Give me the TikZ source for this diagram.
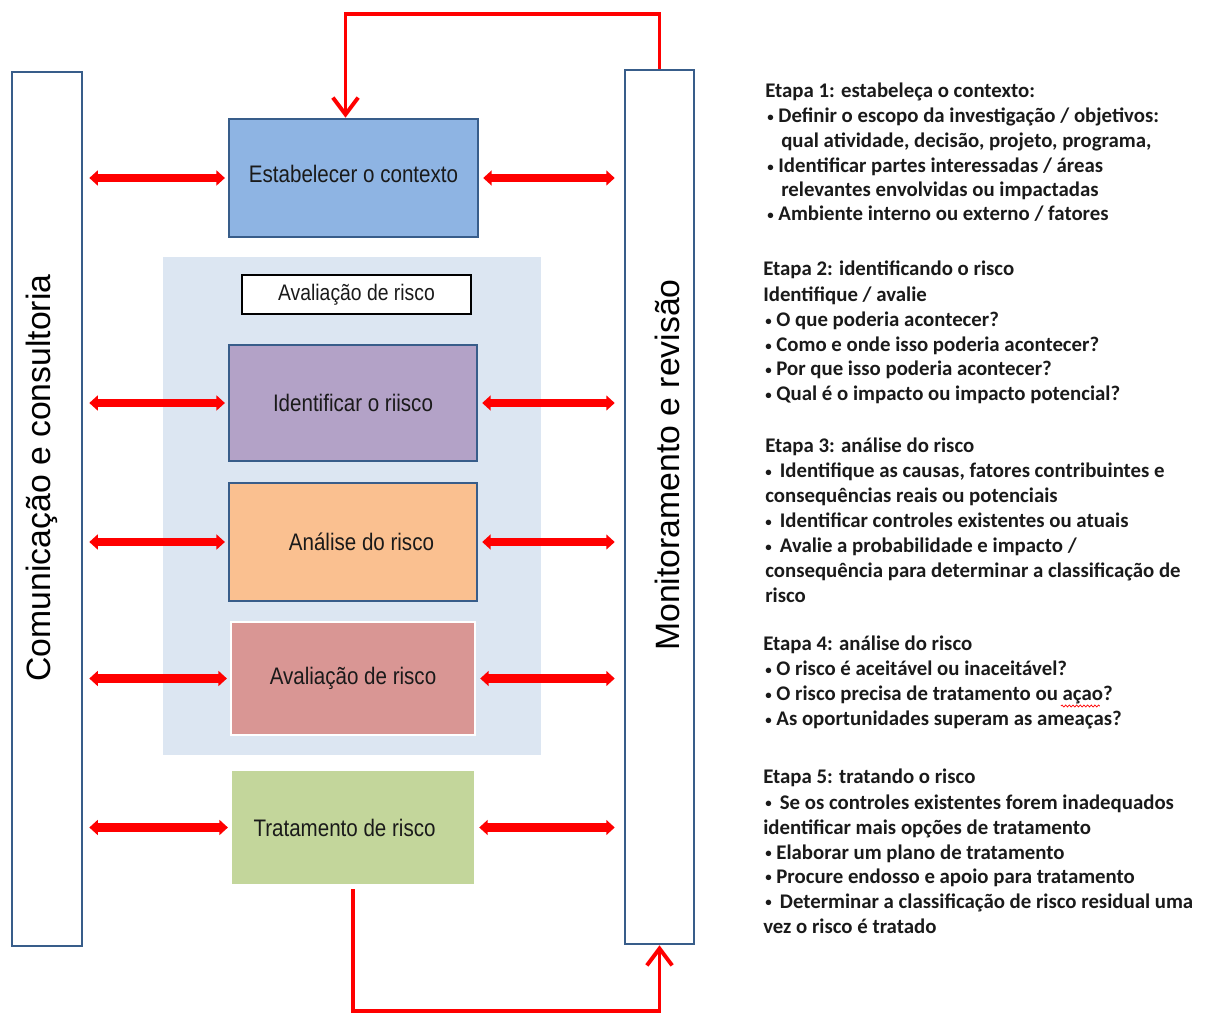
\documentclass[tikz,border=0pt]{standalone}
\usepackage{fontspec}
\setmainfont{Liberation Sans}
\newfontfamily\stepfont{Carlito}
\usetikzlibrary{arrows.meta,calc,decorations.pathmorphing}

\definecolor{frameblue}{HTML}{385D8A}
\definecolor{ctxfill}{HTML}{8EB4E3}
\definecolor{idfill}{HTML}{B3A2C7}
\definecolor{anfill}{HTML}{FAC090}
\definecolor{avfill}{HTML}{D99694}
\definecolor{trfill}{HTML}{C3D69B}
\definecolor{groupfill}{HTML}{DCE6F2}
\definecolor{flowred}{HTML}{FF0000}
\definecolor{inktext}{HTML}{1A1A1A}

\newcommand\stepline[4]{\node[steptxt] (#1) at (#2,#3) {#4};}
\newcommand\boxlabel[1]{\scalebox{0.86}[1]{#1}}
\newcommand\stepbul{\raisebox{0.12ex}{\scalebox{0.62}{•}}}

\begin{document}
\begin{tikzpicture}[x=0.025cm,y=-0.025cm,
  pxsize/.style 2 args={minimum width=#1*0.025cm, minimum height=#2*0.025cm, inner sep=0pt},
  sidebar/.style={draw=frameblue, line width=1.8pt, fill=white},
  procbox/.style={draw=frameblue, line width=1.8pt, text=inktext,
    font=\fontsize{17}{20}\selectfont},
  sidetxt/.style={rotate=90, font=\fontsize{24}{28}\selectfont, text=black},
  dbl/.style={flowred, line width=6pt,
    {Triangle[width=10.5pt,length=6pt]}-{Triangle[width=10.5pt,length=6pt]}},
  loopline/.style={flowred, line width=2.8pt, -{Straight Barb[length=12pt,width=18pt]}},
  steptxt/.style={anchor=base west, inner sep=0pt, text=inktext,
    font=\stepfont\bfseries\fontsize{14.8}{17}\selectfont}
]
\useasboundingbox (0,0) rectangle (1205,1016);

% side bars
\node[sidebar, pxsize={70}{874}] (lbox) at (47,509) {};
\node[sidebar, pxsize={69}{874}] (rbox) at (659.5,507) {};
\node[sidetxt] (comtxt) at (42,478) {Comunicação e consultoria};
\node[sidetxt] (montxt) at (667,465) {Monitoramento e revisão};

% risk assessment group
\node[fill=groupfill, pxsize={378}{498}] (group) at (352,506) {};
\node[draw=black, line width=1.1pt, fill=white, pxsize={229}{39}, text=inktext,
  font=\fontsize{16}{19}\selectfont] (grouptitle) at (356.5,294.5) {\boxlabel{Avaliação de risco}};

% process boxes
\node[procbox, fill=ctxfill, pxsize={249}{118}] (estab) at (353.5,178) {\raisebox{6pt}{\boxlabel{Estabelecer o contexto}}};
\node[procbox, fill=idfill, pxsize={248}{116}] (ident) at (353,403) {\boxlabel{Identificar o riisco}};
\node[procbox, fill=anfill, pxsize={248}{118}] (anal) at (353,542) {\raisebox{-3pt}{\boxlabel{\hspace*{14pt}Análise do risco}}};
\node[procbox, draw=white, fill=avfill, pxsize={244}{113}] (aval) at (353,678.5) {\raisebox{2pt}{\boxlabel{Avaliação de risco}}};
\node[procbox, draw=none, fill=trfill, pxsize={242}{113}] (trat) at (353,827.5) {\raisebox{-3pt}{\boxlabel{\hspace*{-14pt}Tratamento de risco}}};

% two-way links to the side bars
\foreach \b in {estab,ident,anal,aval,trat}{
  \draw[dbl, shorten <=4.3pt, shorten >=2pt] (\b.west -| lbox.east) -- (\b.west);
  \draw[dbl, shorten <=2.8pt, shorten >=6.4pt] (\b.east) -- (\b.east -| rbox.west);
}

% feedback loops
\draw[loopline] (rbox.north) -- ++(0,-55) -| ($(estab.north)+(-8,0)$);
\draw[loopline] ($(trat.south)+(0,4)$) -- ++(0,122) -| (rbox.south);

% step descriptions
\stepline{s1a}{765}{98}{Etapa 1: estabeleça o contexto:}
\stepline{s1b}{767}{123}{\stepbul{} Definir o escopo da investigação / objetivos:}
\stepline{s1c}{781}{148}{qual atividade, decisão, projeto, programa,}
\stepline{s1d}{767}{173}{\stepbul{} Identificar partes interessadas / áreas}
\stepline{s1e}{781}{197}{relevantes envolvidas ou impactadas}
\stepline{s1f}{767}{221}{\stepbul{} Ambiente interno ou externo / fatores}

\stepline{s2a}{763}{276}{Etapa 2: identificando o risco}
\stepline{s2b}{763}{302}{Identifique / avalie}
\stepline{s2c}{765}{327}{\stepbul{} O que poderia acontecer?}
\stepline{s2d}{765}{352}{\stepbul{} Como e onde isso poderia acontecer?}
\stepline{s2e}{765}{376}{\stepbul{} Por que isso poderia acontecer?}
\stepline{s2f}{765}{401}{\stepbul{} Qual é o impacto ou impacto potencial?}

\stepline{s3a}{765}{453}{Etapa 3: análise do risco}
\stepline{s3b}{765}{478}{\stepbul{}\, Identifique as causas, fatores contribuintes e}
\stepline{s3c}{765}{503}{consequências reais ou potenciais}
\stepline{s3d}{765}{528}{\stepbul{}\, Identificar controles existentes ou atuais}
\stepline{s3e}{765}{553}{\stepbul{}\, Avalie a probabilidade e impacto /}
\stepline{s3f}{765}{578}{consequência para determinar a classificação de}
\stepline{s3g}{765}{603}{risco}

\stepline{s4a}{763}{651}{Etapa 4: análise do risco}
\stepline{s4b}{765}{676}{\stepbul{} O risco é aceitável ou inaceitável?}
\stepline{s4c}{765}{701}{\stepbul{} O risco precisa de tratamento ou açao?}
\stepline{s4d}{765}{726}{\stepbul{} As oportunidades superam as ameaças?}

\stepline{s5a}{763}{783}{Etapa 5: tratando o risco}
\stepline{s5b}{765}{809}{\stepbul{}\, Se os controles existentes forem inadequados}
\stepline{s5c}{763}{834}{identificar mais opções de tratamento}
\stepline{s5d}{765}{859}{\stepbul{} Elaborar um plano de tratamento}
\stepline{s5e}{765}{883}{\stepbul{} Procure endosso e apoio para tratamento}
\stepline{s5f}{765}{908}{\stepbul{}\, Determinar a classificação de risco residual uma}
\stepline{s5g}{763}{933}{vez o risco é tratado}

% spell-check squiggle under "açao"
\draw[flowred, line width=0.5pt, decorate,
  decoration={snake, amplitude=0.7pt, segment length=2.6pt}]
  ($(s4c.base east)+(-52,5)$) -- ($(s4c.base east)+(-13,5)$);
\end{tikzpicture}
\end{document}
